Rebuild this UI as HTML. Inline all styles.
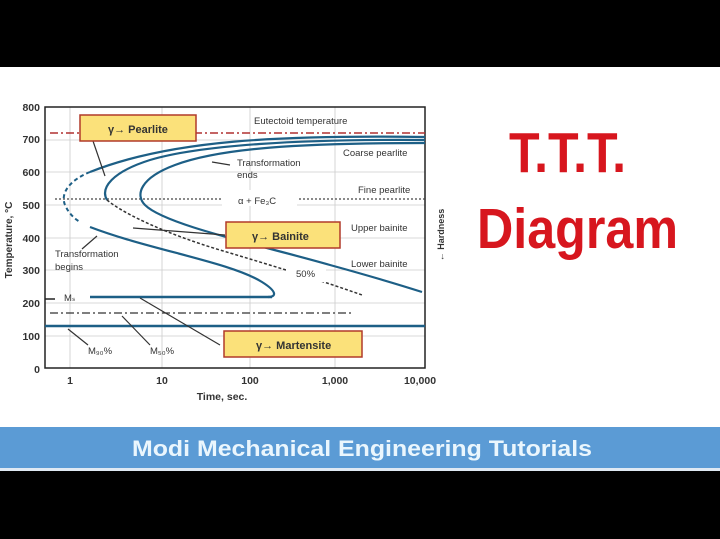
<!DOCTYPE html>
<html><head><meta charset="utf-8"><style>
html,body{margin:0;padding:0;background:#000;width:720px;height:539px;overflow:hidden}
svg{display:block}
text{font-family:"Liberation Sans",Arial,sans-serif}
</style></head><body>
<svg width="720" height="539" viewBox="0 0 720 539">
<rect x="0" y="67" width="720" height="360" fill="#fff"/>
<rect x="0" y="427" width="720" height="41" fill="#5b9bd5"/>
<rect x="0" y="468" width="720" height="3" fill="#dfe9f3"/>
<text x="362" y="456" font-size="22" font-weight="bold" fill="#eaf6fd" text-anchor="middle" textLength="460" lengthAdjust="spacingAndGlyphs">Modi Mechanical Engineering Tutorials</text>

<g stroke="#ccc" stroke-width="0.8">
<line x1="70" y1="107" x2="70" y2="368"/><line x1="162" y1="107" x2="162" y2="368"/>
<line x1="250" y1="107" x2="250" y2="368"/><line x1="335" y1="107" x2="335" y2="368"/>
<line x1="45" y1="140" x2="425" y2="140"/><line x1="45" y1="172" x2="425" y2="172"/>
<line x1="45" y1="205" x2="425" y2="205"/><line x1="45" y1="238" x2="425" y2="238"/>
<line x1="45" y1="270" x2="425" y2="270"/><line x1="45" y1="303" x2="425" y2="303"/>
<line x1="45" y1="336" x2="425" y2="336"/>
</g>
<rect x="45" y="107" width="380" height="261" fill="none" stroke="#222" stroke-width="1.5"/>
<g font-size="10.5" font-weight="bold" fill="#333" text-anchor="end">
<text x="40" y="111">800</text><text x="40" y="143">700</text><text x="40" y="176">600</text>
<text x="40" y="209">500</text><text x="40" y="242">400</text><text x="40" y="274">300</text>
<text x="40" y="307">200</text><text x="40" y="340">100</text><text x="40" y="373">0</text>
</g>
<g font-size="10.5" font-weight="bold" fill="#333" text-anchor="middle">
<text x="70" y="384">1</text><text x="162" y="384">10</text><text x="250" y="384">100</text>
<text x="335" y="384">1,000</text><text x="420" y="384">10,000</text>
<text x="222" y="400">Time, sec.</text>
</g>
<text transform="translate(12,240) rotate(-90)" font-size="10" font-weight="bold" fill="#333" text-anchor="middle">Temperature, °C</text>
<text transform="translate(444,235) rotate(-90)" font-size="9" font-weight="bold" fill="#333" text-anchor="middle">← Hardness</text>

<line x1="50" y1="133" x2="425" y2="133" stroke="#b03030" stroke-width="1.5" stroke-dasharray="8,3,2,3"/>
<line x1="50" y1="313" x2="352" y2="313" stroke="#333" stroke-width="1.2" stroke-dasharray="8,3,2,3"/>
<line x1="55" y1="199" x2="425" y2="199" stroke="#444" stroke-width="1.2" stroke-dasharray="2,2"/>
<rect x="222" y="190" width="75" height="16" fill="#fff"/>

<g fill="none" stroke="#1d5f86" stroke-width="2.2">
<path d="M425,137 C280,135 170,140 90,172"/>
<path d="M90,227 C150,250 230,262 262,282 C278,292 276,297 268,297"/>
<path d="M425,143 C300,143 220,148 175,165 C140,178 135,195 145,205 C165,225 260,245 330,265 C370,276 400,285 422,292"/>
<path d="M425,140 C300,139 200,145 150,160 C112,172 100,188 107,200"/>
</g>
<path d="M90,172 C70,180 60,193 65,205 C69,214 75,219 80,222" fill="none" stroke="#1d5f86" stroke-width="2" stroke-dasharray="4,3"/>
<path d="M107,200 C125,215 170,235 220,250 C270,265 320,280 362,295" fill="none" stroke="#333" stroke-width="1.5" stroke-dasharray="3,2"/>
<rect x="286" y="268" width="40" height="14" fill="#fff"/>
<g stroke="#1d5f86" stroke-width="2.6">
<line x1="90" y1="297" x2="272" y2="297"/>
<line x1="45" y1="326" x2="425" y2="326"/>
</g>
<line x1="45" y1="299" x2="55" y2="299" stroke="#222" stroke-width="1.5"/>

<g font-size="9.5" fill="#333">
<text x="254" y="124">Eutectoid temperature</text>
<text x="237" y="166">Transformation</text><text x="237" y="178">ends</text>
<text x="238" y="204">α + Fe₃C</text>
<text x="343" y="156">Coarse pearlite</text>
<text x="358" y="193">Fine pearlite</text>
<text x="351" y="231">Upper bainite</text>
<text x="351" y="267">Lower bainite</text>
<text x="296" y="277">50%</text>
<text x="55" y="257">Transformation</text><text x="55" y="270">begins</text>
<text x="64" y="301">Mₛ</text>
<text x="88" y="354">M₉₀%</text><text x="150" y="354">M₅₀%</text>
</g>
<g stroke="#333" stroke-width="1.2" fill="none">
<line x1="93" y1="141" x2="105" y2="176"/>
<line x1="230" y1="165" x2="212" y2="162"/>
<line x1="225" y1="235" x2="133" y2="228"/>
<line x1="82" y1="249" x2="97" y2="236"/>
<line x1="220" y1="345" x2="140" y2="298"/>
<line x1="88" y1="345" x2="68" y2="329"/>
<line x1="150" y1="345" x2="122" y2="316"/>
</g>
<g fill="#fbe17a" stroke="#b13a2a" stroke-width="1.5">
<rect x="80" y="115" width="116" height="26"/>
<rect x="226" y="222" width="114" height="26"/>
<rect x="224" y="331" width="138" height="26"/>
</g>
<g font-size="11" font-weight="bold" fill="#333">
<text x="108" y="133">γ→ Pearlite</text>
<text x="252" y="240">γ→ Bainite</text>
<text x="256" y="349">γ→ Martensite</text>
</g>

<text x="509" y="172" font-size="57" font-weight="bold" fill="#d7161e" textLength="117" lengthAdjust="spacingAndGlyphs">T.T.T.</text>
<text x="477" y="248" font-size="57" font-weight="bold" fill="#d7161e" textLength="201" lengthAdjust="spacingAndGlyphs">Diagram</text>
</svg>
</body></html>
